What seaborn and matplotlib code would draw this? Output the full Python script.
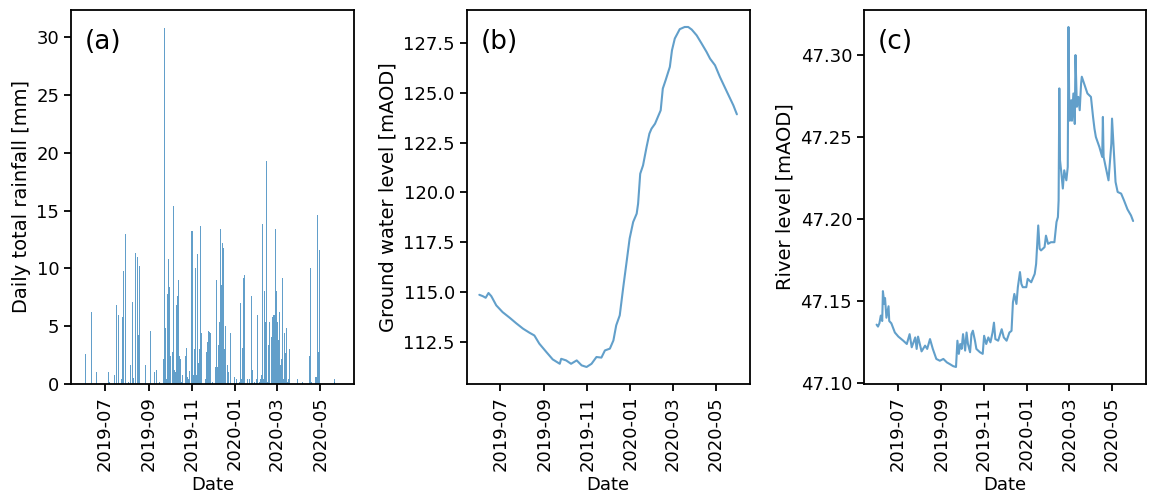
import numpy as np
import pandas as pd
import seaborn as sns
import matplotlib
matplotlib.use("Agg")
import matplotlib.pyplot as plt

start = pd.Timestamp("2019-06-01")

# daily rainfall (days since 2019-06-01, mm)
rain_day = [3, 6, 11, 16, 18, 23, 35, 36, 43, 47, 49, 53, 55, 56, 59, 64, 66, 67, 69, 70,
            74, 76, 77, 79, 88, 94, 100, 103, 107, 113, 114, 116, 117, 119, 120, 122, 123,
            126, 127, 129, 130, 132, 133, 134, 136, 137, 139, 140, 144, 146, 147, 149, 150,
            153, 154, 156, 157, 159, 160, 161, 163, 164, 166, 167, 173, 174, 176, 177, 178,
            180, 183, 186, 187, 188, 190, 191, 193, 194, 195, 197, 198, 200, 201, 203, 204,
            205, 208, 214, 217, 220, 221, 222, 224, 225, 227, 228, 230, 232, 235, 238, 239,
            242, 245, 246, 249, 251, 252, 253, 255, 256, 257, 259, 260, 262, 263, 264, 266,
            267, 269, 270, 272, 273, 274, 276, 277, 279, 280, 282, 283, 284, 286, 287, 289,
            290, 292, 303, 310, 320, 321, 323, 328, 330, 331, 333, 334, 355, 356]
rain_mm = [2.6, 2.2, 6.2, 11.0, 1.0, 3.0, 1.0, 0.2, 0.8, 6.8, 6.0, 0.4, 5.8, 9.8, 13.0, 0.2,
           1.6, 2.2, 7.1, 0.5, 11.3, 11.0, 4.2, 10.2, 1.6, 4.6, 1.0, 1.2, 0.2, 2.2, 30.8, 4.8,
           0.4, 7.8, 10.8, 8.4, 2.4, 2.8, 15.4, 1.2, 1.0, 6.8, 7.6, 9.0, 2.4, 2.2, 0.2, 0.8,
           2.4, 3.1, 0.6, 0.4, 1.1, 13.2, 13.2, 0.8, 3.0, 10.0, 0.8, 11.2, 1.8, 3.0, 13.7, 4.4,
           0.4, 2.8, 3.6, 4.6, 4.5, 4.4, 0.2, 0.8, 1.5, 9.0, 1.5, 3.4, 5.4, 13.4, 8.6, 12.2,
           11.8, 3.0, 5.0, 9.8, 1.6, 1.0, 4.4, 0.6, 0.4, 1.0, 0.2, 7.0, 0.4, 3.1, 9.2, 9.4,
           1.8, 0.4, 0.4, 7.6, 1.2, 0.2, 0.4, 6.0, 0.2, 0.4, 0.8, 13.8, 0.4, 8.0, 5.4, 19.3,
           0.2, 3.4, 5.4, 4.2, 4.1, 5.8, 6.0, 6.0, 13.4, 8.0, 5.4, 3.8, 6.2, 1.6, 2.2, 9.2,
           0.4, 4.4, 2.7, 4.8, 0.2, 0.4, 3.0, 0.4, 0.2, 2.4, 10.0, 0.2, 0.6, 0.6, 14.6, 2.8,
           11.6, 0.2, 0.4]

# ground water level (days since 2019-06-01, mAOD)
gw_day = [0, 5, 9, 13, 17, 24, 33, 43, 52, 62, 71, 78, 85, 95, 104, 114, 116, 123, 130, 138,
          145, 152, 159, 166, 173, 178, 185, 190, 194, 199, 204, 209, 213, 218, 223, 225, 228,
          232, 237, 241, 244, 249, 254, 257, 260, 264, 270, 273, 277, 284, 291, 296, 301, 308,
          315, 322, 327, 334, 341, 351, 360, 365]
gw_level = [114.87, 114.80, 114.72, 114.96, 114.80, 114.34, 114.00, 113.72, 113.45, 113.17,
            112.97, 112.83, 112.42, 112.00, 111.63, 111.41, 111.66, 111.58, 111.41, 111.58,
            111.33, 111.25, 111.41, 111.75, 111.72, 112.08, 112.17, 112.58, 113.34, 113.84,
            115.26, 116.60, 117.69, 118.52, 118.94, 119.44, 120.94, 121.36, 122.28, 122.95,
            123.20, 123.45, 123.87, 124.12, 125.21, 125.63, 126.30, 127.13, 127.72, 128.19,
            128.30, 128.30, 128.17, 127.88, 127.47, 127.05, 126.71, 126.38, 125.79, 125.04,
            124.37, 123.92]

# river level (days since 2019-06-01, mAOD)
river_day = [0, 2, 4, 6, 8, 9, 11, 12, 14, 17, 18, 21, 26, 31, 38, 43, 47, 50, 55, 57, 59, 64,
             69, 72, 76, 80, 85, 90, 95, 100, 104, 109, 113, 115, 117, 119, 121, 123, 126, 128,
             130, 133, 135, 137, 140, 142, 147, 151, 153, 156, 159, 162, 165, 167, 169, 173,
             178, 181, 185, 189, 192, 194, 196, 199, 201, 204, 206, 208, 213, 215, 220, 225,
             227, 230, 232, 234, 239, 241, 244, 248, 253, 256, 258, 259, 260, 261, 263, 265,
             267, 270, 272, 273, 274, 275, 277, 278, 280, 282, 283, 285, 287, 289, 291, 292,
             296, 300, 305, 308, 310, 312, 317, 321, 322, 323, 326, 330, 334, 335, 337, 340,
             343, 348, 352, 357, 362, 365]
river_level = [47.1358, 47.1346, 47.1366, 47.1413, 47.1380, 47.1562, 47.1484, 47.1520, 47.1400,
               47.1470, 47.1380, 47.1366, 47.1310, 47.1285, 47.1260, 47.1240, 47.1300, 47.1220,
               47.1280, 47.1210, 47.1285, 47.1195, 47.1230, 47.1210, 47.1270, 47.1210, 47.1149,
               47.1138, 47.1149, 47.1128, 47.1118, 47.1105, 47.1100, 47.1260, 47.1180, 47.1240,
               47.1210, 47.1300, 47.1200, 47.1310, 47.1240, 47.1190, 47.1300, 47.1321, 47.1260,
               47.1210, 47.1190, 47.1180, 47.1290, 47.1240, 47.1280, 47.1250, 47.1310, 47.1370,
               47.1270, 47.1260, 47.1330, 47.1280, 47.1260, 47.1310, 47.1320, 47.1494, 47.1545,
               47.1484, 47.1586, 47.1678, 47.1606, 47.1586, 47.1586, 47.1637, 47.1616, 47.1667,
               47.1728, 47.1962, 47.1820, 47.1810, 47.1830, 47.1900, 47.1850, 47.1860, 47.1860,
               47.1983, 47.2013, 47.2115, 47.2797, 47.2360, 47.2278, 47.2187, 47.2298, 47.2237,
               47.2318, 47.3171, 47.2745, 47.2600, 47.2725, 47.2600, 47.2766, 47.2580, 47.3000,
               47.2685, 47.2745, 47.2664, 47.2827, 47.2868, 47.2817, 47.2766, 47.2745, 47.2623,
               47.2552, 47.2501, 47.2440, 47.2380, 47.2623, 47.2380, 47.2318, 47.2237, 47.2460,
               47.2613, 47.2460, 47.2227, 47.2166, 47.2156, 47.2115, 47.2060, 47.2023, 47.1989]

rain = pd.DataFrame({"Date": start + pd.to_timedelta(rain_day, unit="D"), "Rain": rain_mm})
gw = pd.DataFrame({"Date": start + pd.to_timedelta(gw_day, unit="D"), "Level": gw_level})
river = pd.DataFrame({"Date": start + pd.to_timedelta(river_day, unit="D"), "Level": river_level})

sns.set_style("ticks")
plt.rcParams["font.family"] = ["DejaVu Sans"]
plt.rcParams["font.size"] = 14
plt.rcParams["axes.linewidth"] = 1.3
# plain black text and frames
for k in ["axes.edgecolor", "axes.labelcolor", "text.color", "xtick.color", "ytick.color"]:
    plt.rcParams[k] = "black"

col = "tab:blue"
fig = plt.figure(figsize=(11.55, 4.99), dpi=100)
ax1 = fig.add_axes([0.0615, 0.2305, 0.245, 0.7495])
ax2 = fig.add_axes([0.404, 0.2305, 0.245, 0.7495])
ax3 = fig.add_axes([0.748, 0.2305, 0.244, 0.7495])

# (a) rainfall
ax1.bar(rain["Date"], rain["Rain"], width=1.3, color=col, alpha=0.7, linewidth=0)
ax1.set_ylabel("Daily total rainfall [mm]")

# (b) ground water
sns.lineplot(data=gw, x="Date", y="Level", ax=ax2, color=col, alpha=0.7, linewidth=1.5)
ax2.set_ylabel("Ground water level [mAOD]")

# (c) river
sns.lineplot(data=river, x="Date", y="Level", ax=ax3, color=col, alpha=0.7, linewidth=1.5)
ax3.set_ylabel("River level [mAOD]")
ax3.yaxis.set_major_formatter(matplotlib.ticker.FormatStrFormatter("%.2f"))

for ax, lab in zip([ax1, ax2, ax3], ["(a)", "(b)", "(c)"]):
    ax.set_xlim(start - pd.Timedelta(days=18), start + pd.Timedelta(days=383))
    ax.set_xlabel("Date", fontsize=13)
    ax.xaxis.set_major_locator(matplotlib.dates.MonthLocator(bymonth=[1, 3, 5, 7, 9, 11]))
    ax.xaxis.set_major_formatter(matplotlib.dates.DateFormatter("%Y-%m"))
    ax.tick_params(axis="x", labelrotation=90, labelsize=13, width=1.3, length=5)
    ax.tick_params(axis="y", labelsize=13, width=1.3, length=5)
    ax.text(0.05, 0.95, lab, transform=ax.transAxes, fontsize=19, va="top", ha="left")

plt.savefig("out.png", dpi=100)
